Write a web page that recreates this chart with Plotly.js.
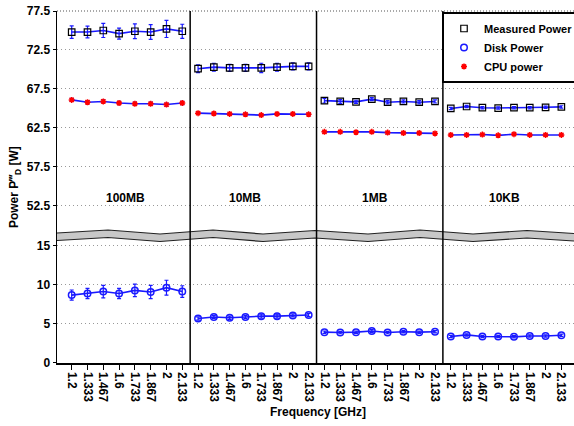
<!DOCTYPE html>
<html>
<head>
<meta charset="utf-8">
<script src="https://cdn.plot.ly/plotly-3.0.1.min.js"></script>
<style>html,body{margin:0;padding:0;background:#fff;}#chart{width:574px;height:426px;}</style>
</head>
<body>
<div id="chart"></div>
<script>
// ---- data ----
const freqLabels = ["1.2", "1.333", "1.467", "1.6", "1.733", "1.867", "2", "2.133"];
const panels = ["100MB", "10MB", "1MB", "10KB"];

const measured = [
  [74.8, 74.8, 75.0, 74.6, 74.9, 74.8, 75.2, 74.9],
  [70.1, 70.3, 70.2, 70.2, 70.2, 70.3, 70.4, 70.4],
  [66.0, 65.9, 65.85, 66.2, 65.8, 65.9, 65.8, 65.9],
  [65.0, 65.25, 65.1, 65.05, 65.1, 65.1, 65.15, 65.2]
];
const measuredErr = [
  [0.8, 0.75, 0.9, 0.7, 0.95, 0.95, 1.1, 0.9],
  [0.5, 0.5, 0.45, 0.45, 0.6, 0.5, 0.45, 0.45],
  [0.3, 0.25, 0.2, 0.2, 0.2, 0.2, 0.2, 0.2],
  [0.15, 0.15, 0.15, 0.15, 0.15, 0.15, 0.15, 0.15]
];
const cpu = [
  [66.1, 65.8, 65.9, 65.7, 65.6, 65.6, 65.5, 65.7],
  [64.4, 64.35, 64.3, 64.25, 64.15, 64.3, 64.3, 64.25],
  [62.0, 62.0, 61.95, 62.0, 61.9, 61.85, 61.85, 61.8],
  [61.6, 61.6, 61.65, 61.55, 61.7, 61.6, 61.6, 61.6]
];
const cpuErr = [
  [0.2, 0.2, 0.2, 0.2, 0.2, 0.2, 0.2, 0.2],
  [0.15, 0.15, 0.15, 0.15, 0.15, 0.15, 0.15, 0.15],
  [0.12, 0.12, 0.12, 0.12, 0.12, 0.12, 0.12, 0.12],
  [0.1, 0.1, 0.1, 0.1, 0.1, 0.1, 0.1, 0.1]
];
const disk = [
  [8.7, 8.9, 9.15, 8.9, 9.3, 9.1, 9.65, 9.15],
  [5.7, 5.9, 5.8, 5.9, 6.0, 6.0, 6.1, 6.15],
  [3.95, 3.9, 3.95, 4.1, 3.9, 4.0, 3.95, 4.0],
  [3.4, 3.6, 3.4, 3.4, 3.35, 3.45, 3.45, 3.55]
];
const diskErr = [
  [0.65, 0.65, 0.8, 0.65, 0.8, 0.85, 0.95, 0.75],
  [0.2, 0.2, 0.2, 0.2, 0.25, 0.25, 0.2, 0.2],
  [0.15, 0.15, 0.15, 0.2, 0.15, 0.15, 0.15, 0.15],
  [0.15, 0.15, 0.15, 0.15, 0.15, 0.15, 0.15, 0.15]
];
const lowerTicks = [0, 5, 10, 15];
const upperTicks = [52.5, 57.5, 62.5, 67.5, 72.5, 77.5];

// ---- build ----
(function () {
const nF = freqLabels.length;
function flat(series, withGaps) {
  const xs = [], ys = [];
  series.forEach((arr, p) => {
    arr.forEach((v, i) => { xs.push(p * nF + i); ys.push(v); });
    if (withGaps && p < series.length - 1) { xs.push(p * nF + nF - 0.5); ys.push(null); }
  });
  return {x: xs, y: ys};
}
function flatErr(errs) {
  const out = [];
  errs.forEach((arr, p) => { arr.forEach(v => out.push(v)); if (p < errs.length - 1) out.push(null); });
  return out;
}
const FONT = 'Liberation Sans, Arial, sans-serif';
const BLUE = 'rgb(25,25,255)';
const traces = [];
function addSeries(name, vals, errs, yaxis, marker) {
  const L = flat(vals, true);
  traces.push({
    x: L.x, y: L.y, yaxis: yaxis, mode: 'lines', showlegend: false, hoverinfo: 'skip',
    connectgaps: false,
    line: {color: BLUE, width: 1.6},
    error_y: {type: 'data', array: flatErr(errs), visible: true, color: BLUE, thickness: 1.2, width: 2}
  });
  const M = flat(vals, false);
  traces.push({x: M.x, y: M.y, yaxis: yaxis, mode: 'markers', name: name, marker: marker});
}
addSeries('Measured Power', measured, measuredErr, 'y2',
  {symbol: 'square-open', size: 6.5, color: 'black', line: {color: 'black', width: 1.2}});
addSeries('Disk Power', disk, diskErr, 'y',
  {symbol: 'circle-open', size: 6.5, color: BLUE, line: {color: BLUE, width: 1.5}});
addSeries('CPU power', cpu, cpuErr, 'y2',
  {symbol: 'asterisk-open', size: 5, color: 'red', line: {color: 'red', width: 1.5}});

const tickvals = [], ticktext = [];
panels.forEach((p, pi) => freqLabels.forEach((f, i) => { tickvals.push(pi * nF + i); ticktext.push(f); }));

const split = 0.361;
const shapes = [];
const plotL = 57, plotR = 574, plotT = 11, plotB = 363;
const px = v => (v - plotL) / (plotR - plotL);
const py = v => (plotB - v) / (plotB - plotT);
const waveX = [57, 108, 160, 213, 263, 315, 368, 420, 473, 527, 574];
const waveY = [233, 230, 234, 230, 234, 230.5, 234, 230, 234, 230.5, 233.5];
const thick = 7.5;
let topPath = '', botPath = '';
waveX.forEach((x, i) => { topPath += (i ? ' L ' : 'M ') + px(x) + ',' + py(waveY[i]); });
for (let i = waveX.length - 1; i >= 0; i--) {
  botPath += (i === waveX.length - 1 ? 'M ' : ' L ') + px(waveX[i]) + ',' + py(waveY[i] + thick);
}
const fillPath = topPath + ' L' + botPath.slice(1) + ' Z';
shapes.push({type: 'path', xref: 'paper', yref: 'paper', path: fillPath, fillcolor: '#c8c8c8', line: {width: 0}, layer: 'above'});
shapes.push({type: 'path', xref: 'paper', yref: 'paper', path: topPath, line: {color: '#222', width: 1.2}, layer: 'above'});
shapes.push({type: 'path', xref: 'paper', yref: 'paper', path: botPath, line: {color: '#222', width: 1.2}, layer: 'above'});
for (let p = 1; p < panels.length; p++) {
  shapes.push({type: 'line', xref: 'x', yref: 'paper', x0: p * nF - 0.5, x1: p * nF - 0.5, y0: 0, y1: 1,
    line: {color: 'black', width: 1.5}, layer: 'above'});
}
shapes.push({type: 'line', xref: 'paper', yref: 'paper', x0: 0, x1: 1, y0: 1, y1: 1,
  line: {color: '#555', width: 1.2, dash: '1px,2px'}, layer: 'below'});

const labelX = [3.4, 11.0, 19.2, 27.4];
const annotations = panels.map((p, i) => ({
  x: labelX[i], y: 53.5, xref: 'x', yref: 'y2', text: p, showarrow: false,
  font: {family: FONT, size: 12, color: 'black', weight: 'bold'}
}));
annotations.push({x: -0.081, y: 0.5, xref: 'paper', yref: 'paper', textangle: -90,
  text: 'Power P‴<sub>D</sub> [W]', showarrow: false, xanchor: 'center', yanchor: 'middle',
  font: {family: FONT, size: 12, color: 'black', weight: 'bold'}});
annotations.push({x: 0.505, y: -0.139, xref: 'paper', yref: 'paper',
  text: 'Frequency [GHz]', showarrow: false, xanchor: 'center', yanchor: 'middle',
  font: {family: FONT, size: 12, color: 'black', weight: 'bold'}});

const tickFont = {family: FONT, size: 12, color: 'black', weight: 'bold'};
const gridStyle = {showgrid: true, gridcolor: '#999', griddash: '1px,3px', gridwidth: 1, zeroline: false};
const layout = {
  width: 574, height: 426,
  margin: {l: plotL, r: 574 - plotR, t: plotT, b: 426 - plotB, autoexpand: false},
  paper_bgcolor: 'white', plot_bgcolor: 'white',
  showlegend: true,
  legend: {x: px(442), xanchor: 'left', y: py(12), yanchor: 'top',
    bgcolor: 'white', bordercolor: 'black', borderwidth: 2,
    font: {family: FONT, size: 11, color: 'black', weight: 'bold'}},
  xaxis: {
    range: [-0.93, 31.8], tickmode: 'array', tickvals: tickvals, ticktext: ticktext,
    tickangle: 90, tickfont: tickFont, ticks: 'outside', ticklen: 5, tickwidth: 1, tickcolor: 'black',
    showline: true, linecolor: 'black', linewidth: 1.5, showgrid: false, zeroline: false, anchor: 'y'
  },
  yaxis: Object.assign({
    domain: [0, split], range: [0, 16.28], tickmode: 'array', tickvals: lowerTicks,
    ticktext: lowerTicks.map(String), tickfont: tickFont,
    ticks: 'outside', ticklen: 3, tickcolor: 'black',
    showline: true, linecolor: 'black', linewidth: 1.5
  }, gridStyle),
  yaxis2: Object.assign({
    domain: [split, 1], range: [48.65, 77.5], tickmode: 'array', tickvals: upperTicks,
    ticktext: upperTicks.map(v => v.toFixed(1)), tickfont: tickFont,
    ticks: 'outside', ticklen: 3, tickcolor: 'black', anchor: 'x',
    showline: true, linecolor: 'black', linewidth: 1.5
  }, gridStyle),
  shapes: shapes,
  annotations: annotations
};
Plotly.newPlot('chart', traces, layout, {displayModeBar: false, staticPlot: true});
})();
</script>
</body>
</html>
